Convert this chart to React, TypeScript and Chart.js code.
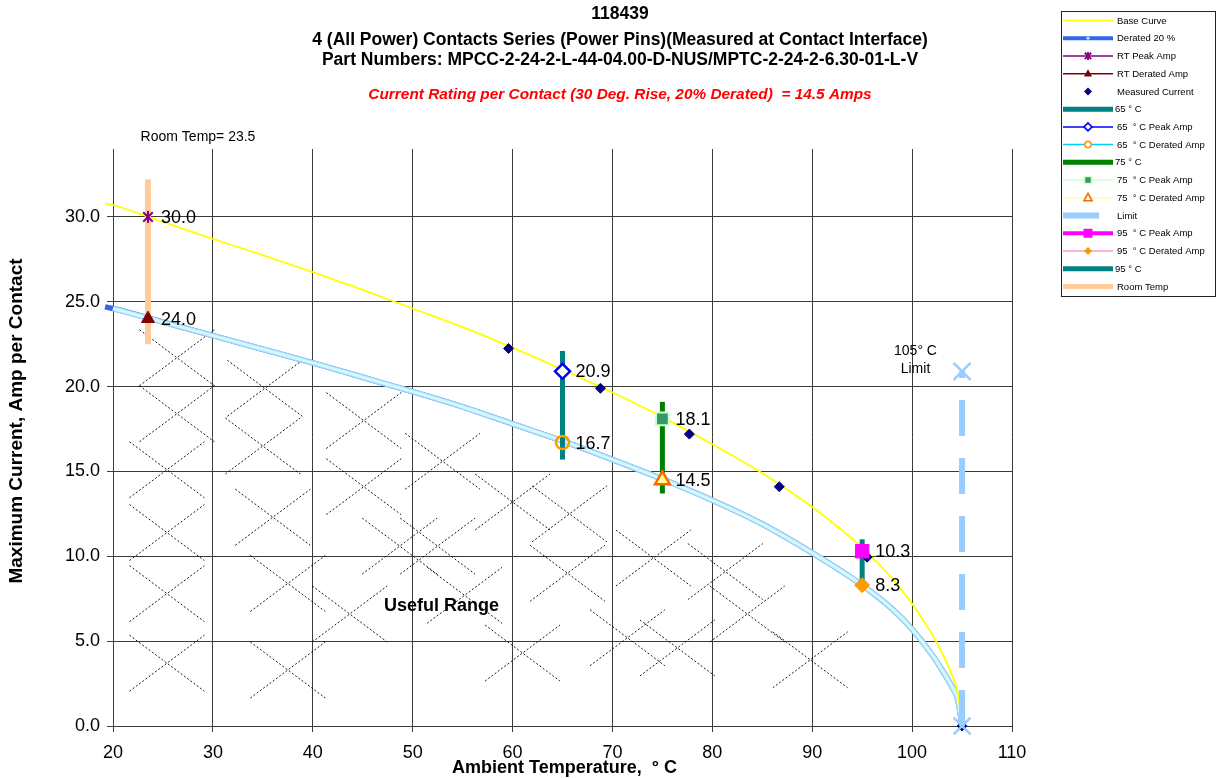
import React, { useEffect, useRef } from 'react';
import { Chart, registerables } from 'chart.js';

Chart.register(...registerables);

const FONT = "'Liberation Sans', Arial, Helvetica, sans-serif";

// ---------- data ----------
const curveTemps = [19.2, 20, 25, 30, 35, 40, 45, 50, 55, 60, 65, 70, 75, 80, 85, 90, 95, 98, 100, 102, 103, 104, 104.6, 105];
const baseCurveAmps = [30.8, 30.7, 29.7, 28.7, 27.75, 26.75, 25.7, 24.6, 23.5, 22.3, 21.0, 19.65, 18.2, 16.6, 14.9, 12.9, 10.5, 8.7, 7.2, 5.4, 4.3, 3.0, 1.9, 0];
const deratedCurveAmps = [24.7, 24.6, 23.8, 23.0, 22.2, 21.4, 20.55, 19.7, 18.8, 17.8, 16.8, 15.7, 14.55, 13.3, 11.9, 10.2, 8.3, 6.9, 5.7, 4.2, 3.3, 2.3, 1.5, 0];

const measuredTemps = [59.6, 68.8, 77.7, 86.7, 95.5, 105];
const measuredAmps = [22.25, 19.9, 17.2, 14.1, 9.95, 0];

const roomTemp = 23.5;
const roomTempSpan = [22.5, 32.2];
const rtPeakAmp = 30.0;
const rtDeratedAmp = 24.0;

const testTemps = [65, 75, 95];
const testSpanLow = [15.7, 13.7, 8.0];
const testSpanHigh = [22.1, 19.1, 11.0];
const testPeakAmps = [20.9, 18.1, 10.3];
const testDeratedAmps = [16.7, 14.5, 8.3];

const limitTemp = 105;
const limitSpan = [0, 20.9];

const xTickValues = [20, 30, 40, 50, 60, 70, 80, 90, 100, 110];
const yTickValues = [0, 5, 10, 15, 20, 25, 30];

// centres of the dotted crosses that fill the "Useful Range" (temperature, amps)
const hatchCrossTemps = [26.4, 26.4, 25.4, 25.4, 25.4, 25.4, 35.2, 35.0, 36.0, 37.5, 37.5, 45.1, 45.1, 43.7, 48.7, 53.0, 52.5, 55.2, 60.0, 65.7, 65.5, 61.0, 74.1, 71.5, 76.5, 81.3, 83.5, 89.8];
const hatchCrossAmps = [21.7, 18.4, 15.1, 11.4, 7.8, 3.7, 19.9, 16.5, 12.3, 8.4, 3.3, 18.0, 14.1, 6.6, 10.6, 15.6, 10.6, 7.7, 13.2, 12.5, 9.0, 4.3, 9.9, 5.2, 4.6, 9.1, 6.6, 3.9];

const titleLines = [
  '118439',
  '4 (All Power) Contacts Series (Power Pins)(Measured at Contact Interface)',
  'Part Numbers: MPCC-2-24-2-L-44-04.00-D-NUS/MPTC-2-24-2-6.30-01-L-V',
];
const ratingNote = 'Current Rating per Contact (30 Deg. Rise, 20% Derated)  = 14.5 Amps';
const xAxisTitle = 'Ambient Temperature,  \u00B0 C';
const yAxisTitle = 'Maximum Current, Amp per Contact';
const roomTempNote = 'Room Temp= 23.5';
const limitNote = ['105\u00B0 C', 'Limit'];
const usefulRangeNote = 'Useful Range';

// ---------- helpers ----------
function drawMarker(ctx: CanvasRenderingContext2D, style: string, x: number, y: number, r: number, fill: string | null, stroke: string | null, lw: number) {
  ctx.save();
  ctx.setLineDash([]);
  ctx.beginPath();
  if (style === 'circle') {
    ctx.arc(x, y, r, 0, Math.PI * 2);
  } else if (style === 'rectRot') {
    ctx.moveTo(x - r, y); ctx.lineTo(x, y - r); ctx.lineTo(x + r, y); ctx.lineTo(x, y + r); ctx.closePath();
  } else if (style === 'rect') {
    ctx.rect(x - r, y - r, 2 * r, 2 * r);
  } else if (style === 'triangle') {
    ctx.moveTo(x, y - r); ctx.lineTo(x + r * 0.9, y + r * 0.65); ctx.lineTo(x - r * 0.9, y + r * 0.65); ctx.closePath();
  } else if (style === 'star') {
    const d = r * 0.8;
    ctx.moveTo(x - d, y - d); ctx.lineTo(x + d, y + d);
    ctx.moveTo(x + d, y - d); ctx.lineTo(x - d, y + d);
    ctx.moveTo(x, y - r); ctx.lineTo(x, y + r);
  } else if (style === 'cross') {
    ctx.moveTo(x - r, y); ctx.lineTo(x + r, y);
    ctx.moveTo(x, y - r); ctx.lineTo(x, y + r);
  }
  if (fill && style !== 'star' && style !== 'cross') { ctx.fillStyle = fill; ctx.fill(); }
  if (stroke && lw > 0) { ctx.strokeStyle = stroke; ctx.lineWidth = lw; ctx.stroke(); }
  ctx.restore();
}

function makeStarImage(color: string, size: number, lw: number) {
  const c = document.createElement('canvas');
  c.width = size; c.height = size;
  const g = c.getContext('2d')!;
  drawMarker(g, 'star', size / 2, size / 2, size / 2 - 1, null, color, lw);
  return c;
}

const decorPlugin = {
  id: 'decor',
  beforeDatasetsDraw(chart: any) {
    const { ctx, chartArea, scales } = chart;
    const xs = scales.x, ys = scales.y;
    ctx.save();
    ctx.beginPath();
    ctx.rect(chartArea.left, chartArea.top, chartArea.right - chartArea.left, chartArea.bottom - chartArea.top);
    ctx.clip();
    ctx.strokeStyle = '#000';
    ctx.lineWidth = 0.9;
    ctx.setLineDash([2, 2]);
    const hw = 3.75, hh = 1.65;
    for (let i = 0; i < hatchCrossTemps.length; i++) {
      const t = hatchCrossTemps[i], a = hatchCrossAmps[i];
      ctx.beginPath();
      ctx.moveTo(xs.getPixelForValue(t - hw), ys.getPixelForValue(a + hh));
      ctx.lineTo(xs.getPixelForValue(t + hw), ys.getPixelForValue(a - hh));
      ctx.moveTo(xs.getPixelForValue(t - hw), ys.getPixelForValue(a - hh));
      ctx.lineTo(xs.getPixelForValue(t + hw), ys.getPixelForValue(a + hh));
      ctx.stroke();
    }
    ctx.restore();
  },
  afterDatasetsDraw(chart: any) {
    const { ctx } = chart;
    ctx.save();
    ctx.font = `18px ${FONT}`;
    ctx.fillStyle = '#000';
    ctx.textAlign = 'left';
    ctx.textBaseline = 'middle';
    chart.data.datasets.forEach((ds: any, i: number) => {
      if (!ds.valueLabel) return;
      const meta = chart.getDatasetMeta(i);
      meta.data.forEach((el: any, j: number) => {
        const v = ds.data[j].y;
        ctx.fillText(v.toFixed(1), el.x + 13, el.y + 1);
      });
    });
    ctx.restore();
  },
  afterDraw(chart: any) {
    const { ctx, chartArea } = chart;
    ctx.save();
    ctx.fillStyle = '#000';
    ctx.textAlign = 'center';
    ctx.textBaseline = 'middle';
    // titles
    ctx.font = `bold 17.5px ${FONT}`;
    const titleY = [14, 40, 60];
    titleLines.forEach((t, i) => ctx.fillText(t, 620, titleY[i]));
    ctx.font = `italic bold 15.4px ${FONT}`;
    ctx.fillStyle = '#ff0000';
    ctx.fillText(ratingNote, 620, 95);
    ctx.fillStyle = '#000';
    // axis titles
    ctx.font = `bold 18px ${FONT}`;
    ctx.fillText(xAxisTitle, (chartArea.left + chartArea.right) / 2 + 2, 768);
    ctx.save();
    ctx.translate(17, 421);
    ctx.rotate(-Math.PI / 2);
    ctx.font = `bold 19px ${FONT}`;
    ctx.fillText(yAxisTitle, 0, 0);
    ctx.restore();
    // notes
    ctx.font = `14px ${FONT}`;
    ctx.fillText(roomTempNote, 198, 137);
    ctx.fillText(limitNote[0], 915.5, 351);
    ctx.fillText(limitNote[1], 915.5, 369.5);
    ctx.font = `bold 18px ${FONT}`;
    ctx.fillText(usefulRangeNote, 441.5, 606);

    // legend
    const LX = 1061, LY = 11, LW = 154, LH = 285;
    ctx.fillStyle = '#fff';
    ctx.fillRect(LX, LY, LW, LH);
    ctx.strokeStyle = '#222';
    ctx.lineWidth = 1;
    ctx.strokeRect(LX + 0.5, LY + 0.5, LW, LH);
    const rowH = 17.73, row0 = 20.5, lx0 = 1063, lx1 = 1113, mx = 1088;
    let row = 0;
    chart.data.datasets.forEach((ds: any) => {
      if (ds.legendHidden) return;
      const cy = row0 + row * rowH;
      row++;
      if (ds.legendLine !== false) {
        ctx.save();
        ctx.strokeStyle = ds.legendLineColor || ds.borderColor;
        ctx.lineWidth = ds.legendLineWidth || ds.borderWidth;
        ctx.setLineDash(ds.borderDash || []);
        ctx.beginPath();
        ctx.moveTo(lx0, cy);
        ctx.lineTo(lx1, cy);
        ctx.stroke();
        ctx.restore();
      }
      if (ds.legendMarker) {
        const m = ds.legendMarker;
        drawMarker(ctx, m.style, mx, cy, m.r, m.fill, m.stroke, m.lw);
      }
      ctx.fillStyle = '#000';
      ctx.font = `9.5px ${FONT}`;
      ctx.textAlign = 'left';
      ctx.textBaseline = 'middle';
      ctx.fillText(ds.label, ds.legendTextX || 1117, cy + 0.5);
    });
    ctx.restore();
  },
};

export default function App() {
  const ref = useRef<HTMLCanvasElement | null>(null);

  useEffect(() => {
    document.body.style.margin = '0';
    const canvas = ref.current;
    if (!canvas) return;

    const xy = (xsArr: number[], ysArr: number[]) => xsArr.map((x, i) => ({ x, y: ysArr[i] }));
    const vbar = (x: number, lo: number, hi: number) => [{ x, y: lo }, { x, y: hi }];
    const one = (x: number, y: number) => [{ x, y }];
    const starImg = makeStarImage('#800080', 14, 2);

    const datasets: any[] = [
      {
        label: 'Base Curve', data: xy(curveTemps, baseCurveAmps), borderColor: '#ffff00', borderWidth: 1.8,
        pointRadius: 0, cubicInterpolationMode: 'monotone', clip: false, order: 20, legendLineWidth: 1.5,
      },
      {
        label: 'Derated 20 %', data: xy(curveTemps, deratedCurveAmps), borderColor: '#3366ee', borderWidth: 5.5,
        pointRadius: 0, cubicInterpolationMode: 'monotone', clip: false, order: 26, legendLineWidth: 4,
        legendMarker: { style: 'cross', r: 2, fill: null, stroke: '#ccffff', lw: 1 },
      },
      {
        label: '', legendHidden: true, data: xy(curveTemps.slice(1), deratedCurveAmps.slice(1)), borderColor: '#a3d8f3', borderWidth: 5.5,
        pointRadius: 0, cubicInterpolationMode: 'monotone', clip: false, order: 25,
      },
      {
        label: '', legendHidden: true, data: xy(curveTemps.slice(1), deratedCurveAmps.slice(1)), borderColor: '#d3f8ff', borderWidth: 3,
        pointRadius: 0, cubicInterpolationMode: 'monotone', clip: false, order: 24,
      },
      {
        label: 'RT Peak Amp', data: one(roomTemp, rtPeakAmp), showLine: false, borderColor: '#800080', borderWidth: 1.5,
        pointStyle: starImg, pointRadius: 7, clip: false, order: 3, valueLabel: true,
        legendMarker: { style: 'star', r: 4, fill: null, stroke: '#800080', lw: 1.8 },
      },
      {
        label: 'RT Derated Amp', data: one(roomTemp, rtDeratedAmp), showLine: false, borderColor: '#800000', borderWidth: 1.5,
        pointStyle: 'triangle', pointRadius: 7.5, pointBackgroundColor: '#800000', pointBorderColor: '#800000', pointBorderWidth: 1,
        clip: false, order: 3, valueLabel: true,
        legendMarker: { style: 'triangle', r: 4.5, fill: '#800000', stroke: null, lw: 0 },
      },
      {
        label: 'Measured Current', data: xy(measuredTemps, measuredAmps), showLine: false, borderColor: '#000080', borderWidth: 1,
        pointStyle: 'rectRot', pointRadius: 5, pointBackgroundColor: '#000080', pointBorderColor: '#000080', pointBorderWidth: 1,
        clip: false, order: 5, legendLine: false,
        legendMarker: { style: 'rectRot', r: 4, fill: '#000080', stroke: null, lw: 0 },
      },
      {
        label: '65 \u00B0 C', data: vbar(testTemps[0], testSpanLow[0], testSpanHigh[0]), borderColor: '#008080', borderWidth: 5,
        pointRadius: 0, clip: false, order: 15, legendTextX: 1115,
      },
      {
        label: '65  \u00B0 C Peak Amp', data: one(testTemps[0], testPeakAmps[0]), showLine: false, borderColor: '#0000ff', borderWidth: 1.5,
        pointStyle: 'rectRot', pointRadius: 7.5, pointBackgroundColor: '#ffffff', pointBorderColor: '#0000ff', pointBorderWidth: 2.5,
        clip: false, order: 3, valueLabel: true,
        legendMarker: { style: 'rectRot', r: 4, fill: '#ffffff', stroke: '#0000ff', lw: 1.6 },
      },
      {
        label: '65  \u00B0 C Derated Amp', data: one(testTemps[0], testDeratedAmps[0]), showLine: false, borderColor: '#00ccff', borderWidth: 1.5,
        pointStyle: 'circle', pointRadius: 6.5, pointBackgroundColor: 'rgba(0,0,0,0)', pointBorderColor: '#ff9900', pointBorderWidth: 2.5,
        clip: false, order: 3, valueLabel: true,
        legendMarker: { style: 'circle', r: 3.2, fill: '#ffffff', stroke: '#ff9900', lw: 1.6 },
      },
      {
        label: '75 \u00B0 C', data: vbar(testTemps[1], testSpanLow[1], testSpanHigh[1]), borderColor: '#008000', borderWidth: 5,
        pointRadius: 0, clip: false, order: 15, legendTextX: 1115,
      },
      {
        label: '75  \u00B0 C Peak Amp', data: one(testTemps[1], testPeakAmps[1]), showLine: false, borderColor: '#ccffcc', borderWidth: 1.5,
        pointStyle: 'rect', pointRadius: 9, pointBackgroundColor: '#339966', pointBorderColor: '#ccffcc', pointBorderWidth: 2,
        clip: false, order: 3, valueLabel: true,
        legendMarker: { style: 'rect', r: 3.5, fill: '#339966', stroke: '#ccffcc', lw: 1.5 },
      },
      {
        label: '75  \u00B0 C Derated Amp', data: one(testTemps[1], testDeratedAmps[1]), showLine: false, borderColor: '#ffff99', borderWidth: 1.5,
        pointStyle: 'triangle', pointRadius: 8.5, pointBackgroundColor: '#ffff99', pointBorderColor: '#ff6600', pointBorderWidth: 2.5,
        clip: false, order: 3, valueLabel: true,
        legendMarker: { style: 'triangle', r: 4.5, fill: '#ffffff', stroke: '#ff6600', lw: 1.6 },
      },
      {
        label: 'Limit', data: vbar(limitTemp, limitSpan[0], limitSpan[1]), borderColor: '#99ccff', borderWidth: 6,
        borderDash: [36, 22], pointStyle: 'crossRot', pointRadius: 12, pointBorderColor: '#99ccff', pointBackgroundColor: '#99ccff',
        pointBorderWidth: 2.5, clip: false, order: 1,
      },
      {
        label: '95  \u00B0 C Peak Amp', data: one(testTemps[2], testPeakAmps[2]), showLine: false, borderColor: '#ff00ff', borderWidth: 4,
        pointStyle: 'rect', pointRadius: 9.5, pointBackgroundColor: '#ff00ff', pointBorderColor: '#ff00ff', pointBorderWidth: 1,
        clip: false, order: 3, valueLabel: true,
        legendMarker: { style: 'rect', r: 4.5, fill: '#ff00ff', stroke: null, lw: 0 },
      },
      {
        label: '95  \u00B0 C Derated Amp', data: one(testTemps[2], testDeratedAmps[2]), showLine: false, borderColor: '#ff99cc', borderWidth: 1.5,
        pointStyle: 'rectRot', pointRadius: 7.5, pointBackgroundColor: '#ff9900', pointBorderColor: '#ff9900', pointBorderWidth: 1,
        clip: false, order: 3, valueLabel: true,
        legendMarker: { style: 'rectRot', r: 4, fill: '#ff9900', stroke: null, lw: 0 },
      },
      {
        label: '95 \u00B0 C', data: vbar(testTemps[2], testSpanLow[2], testSpanHigh[2]), borderColor: '#008080', borderWidth: 5,
        pointRadius: 0, clip: false, order: 15, legendTextX: 1115,
      },
      {
        label: 'Room Temp', data: vbar(roomTemp, roomTempSpan[0], roomTempSpan[1]), borderColor: '#ffcc99', borderWidth: 6,
        pointRadius: 0, clip: false, order: 16, legendLineWidth: 5,
      },
    ];

    const chart = new Chart(canvas, {
      type: 'line',
      data: { datasets },
      options: {
        animation: false,
        responsive: false,
        maintainAspectRatio: false,
        events: [],
        layout: { padding: { left: 0, top: 149, right: 210, bottom: 0 } },
        plugins: {
          legend: { display: false },
          tooltip: { enabled: false },
          title: { display: false },
        },
        elements: { line: { tension: 0, borderCapStyle: 'butt' } },
        scales: {
          x: {
            type: 'linear',
            min: 20,
            max: 110,
            afterBuildTicks: (s: any) => { s.ticks = xTickValues.map((v) => ({ value: v })); },
            afterFit: (s: any) => { s.height = 52; },
            ticks: {
              autoSkip: false, maxRotation: 0, padding: 10, color: '#000',
              font: { size: 18, family: FONT },
              callback: (v: any) => String(v),
            },
            grid: { color: '#3a3a3a', lineWidth: 1, tickLength: 6, drawTicks: true },
            border: { display: true, color: '#3a3a3a', width: 1 },
          },
          y: {
            type: 'linear',
            min: 0,
            max: 34,
            afterBuildTicks: (s: any) => { s.ticks = yTickValues.map((v) => ({ value: v })); },
            afterFit: (s: any) => { s.width = 113; },
            ticks: {
              autoSkip: false, padding: 7, color: '#000',
              font: { size: 18, family: FONT },
              callback: (v: any) => Number(v).toFixed(1),
            },
            grid: { color: '#3a3a3a', lineWidth: 1, tickLength: 6, drawTicks: true },
            border: { display: true, color: '#3a3a3a', width: 1 },
          },
        },
      } as any,
      plugins: [decorPlugin as any],
    });

    return () => chart.destroy();
  }, []);

  return (
    <div style={{ width: 1222, height: 778, background: '#fff' }}>
      <canvas ref={ref} width={1222} height={778} style={{ display: 'block' }} />
    </div>
  );
}
